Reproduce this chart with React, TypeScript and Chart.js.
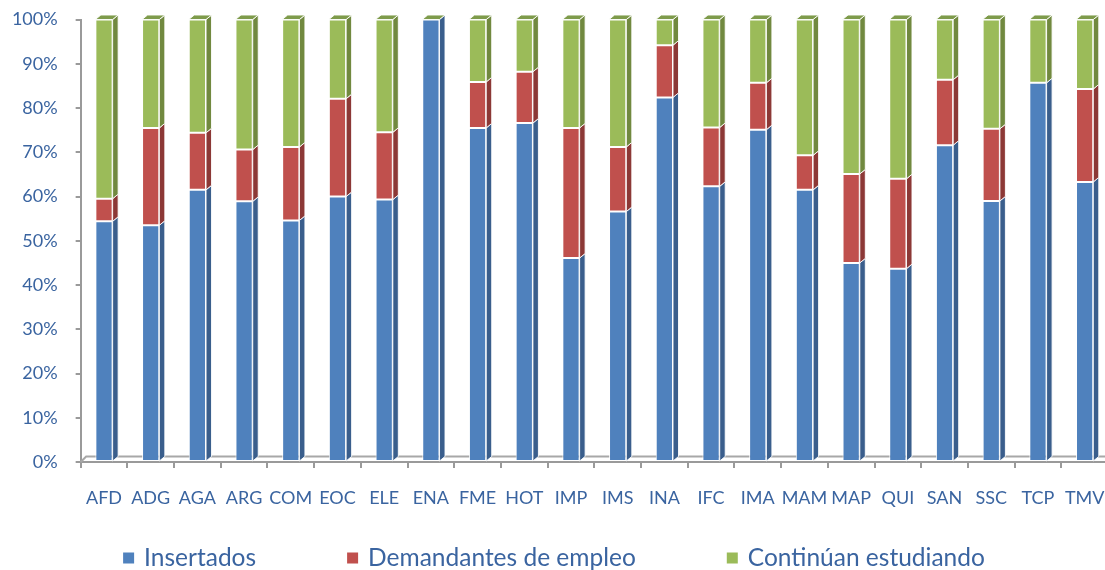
import React, { useEffect, useRef } from 'react';
import { Chart, registerables } from 'chart.js';

Chart.register(...registerables);

const categories = ['AFD', 'ADG', 'AGA', 'ARG', 'COM', 'EOC', 'ELE', 'ENA', 'FME', 'HOT', 'IMP', 'IMS', 'INA', 'IFC', 'IMA', 'MAM', 'MAP', 'QUI', 'SAN', 'SSC', 'TCP', 'TMV'];
const insertados = [54.4, 53.5, 61.5, 58.9, 54.6, 60.0, 59.3, 100, 75.5, 76.6, 46.1, 56.6, 82.4, 62.3, 75.1, 61.5, 45.0, 43.7, 71.6, 59.0, 85.7, 63.3];
const demandantes = [5.1, 22.0, 12.9, 11.7, 16.6, 22.1, 15.2, 0, 10.4, 11.6, 29.4, 14.6, 11.8, 13.3, 10.6, 7.8, 20.1, 20.3, 14.8, 16.3, 0, 21.0];
const continuan = [40.5, 24.5, 25.6, 29.4, 28.8, 17.9, 25.5, 0, 14.1, 11.8, 24.5, 28.8, 5.8, 24.4, 14.3, 30.7, 34.9, 36.0, 13.6, 24.7, 14.3, 15.7];
const yTickValues = [0, 10, 20, 30, 40, 50, 60, 70, 80, 90, 100];
const seriesNames = ['Insertados', 'Demandantes de empleo', 'Continúan estudiando'];

const frontColors = ['#4F81BD', '#C0504D', '#9BBB59'];
const sideColors = ['#3A5E8C', '#8C3836', '#71893F'];
const topFaceColor = '#7E9B4B';
const textColor = '#3A64A0';
const axisColor = '#9A9A9A';

const DX = 5.5;
const DY = -4.5;
const LEGEND_FONT = 24.5;

const bar3dPlugin = {
  id: 'bar3d',
  beforeDatasetsDraw(chart: any) {
    const { ctx, chartArea } = chart;
    ctx.save();
    ctx.strokeStyle = '#A8A8A8';
    ctx.lineWidth = 2;
    ctx.beginPath();
    ctx.moveTo(chartArea.left, chartArea.bottom);
    ctx.lineTo(chartArea.left + DX, chartArea.bottom + DY - 1);
    ctx.lineTo(chartArea.right + 10, chartArea.bottom + DY - 1);
    ctx.stroke();
    ctx.restore();
  },
  afterDatasetsDraw(chart: any) {
    const ctx = chart.ctx;
    ctx.save();
    ctx.lineWidth = 1;
    ctx.strokeStyle = 'rgba(255,255,255,0.9)';
    const nds = chart.data.datasets.length;
    for (let di = 0; di < nds; di++) {
      const meta = chart.getDatasetMeta(di);
      meta.data.forEach((el: any) => {
        const p = el.getProps(['x', 'y', 'base', 'width'], true);
        const right = p.x + p.width / 2;
        const top = Math.min(p.y, p.base);
        const bottom = Math.max(p.y, p.base);
        if (bottom - top < 0.5) return;
        ctx.beginPath();
        ctx.moveTo(right, top);
        ctx.lineTo(right + DX, top + DY);
        ctx.lineTo(right + DX, bottom + DY);
        ctx.lineTo(right, bottom);
        ctx.closePath();
        ctx.fillStyle = sideColors[di];
        ctx.fill();
        ctx.stroke();
      });
    }
    const lastMeta = chart.getDatasetMeta(nds - 1);
    lastMeta.data.forEach((el: any) => {
      const p = el.getProps(['x', 'y', 'width'], true);
      const l = p.x - p.width / 2;
      const r = p.x + p.width / 2;
      const y = p.y;
      ctx.beginPath();
      ctx.moveTo(l, y);
      ctx.lineTo(l + DX, y + DY);
      ctx.lineTo(r + DX, y + DY);
      ctx.lineTo(r, y);
      ctx.closePath();
      ctx.fillStyle = topFaceColor;
      ctx.fill();
      ctx.stroke();
    });
    ctx.restore();
  },
};

const legendPlugin = {
  id: 'customLegend',
  afterDraw(chart: any) {
    const { ctx, chartArea } = chart;
    ctx.save();
    ctx.font = `${LEGEND_FONT}px Lato`;
    ctx.textBaseline = 'middle';
    ctx.textAlign = 'left';
    const box = 11;
    const gapText = 10;
    const gapItem = 91;
    const widths = seriesNames.map((n) => ctx.measureText(n).width);
    const total = widths.reduce((a, w) => a + box + gapText + w, 0) + gapItem * (seriesNames.length - 1);
    let x = chart.width / 2 - total / 2;
    const cy = chartArea.bottom + 96;
    seriesNames.forEach((name, i) => {
      ctx.fillStyle = frontColors[i];
      ctx.fillRect(x, cy - box / 2, box, box);
      ctx.fillStyle = textColor;
      ctx.fillText(name, x + box + gapText, cy);
      x += box + gapText + widths[i] + gapItem;
    });
    ctx.restore();
  },
};

export default function App() {
  const canvasRef = useRef<HTMLCanvasElement | null>(null);

  useEffect(() => {
    if (!canvasRef.current) return;
    Chart.defaults.font.family = 'Lato';
    const values = [insertados, demandantes, continuan];
    const chart = new Chart(canvasRef.current, {
      type: 'bar',
      data: {
        labels: categories,
        datasets: seriesNames.map((name, i) => ({
          label: name,
          data: values[i],
          backgroundColor: frontColors[i],
          borderColor: 'rgba(255,255,255,0.85)',
          borderWidth: 1,
          borderSkipped: false,
          categoryPercentage: 1,
          barPercentage: 0.37,
        })),
      },
      options: {
        responsive: false,
        animation: false,
        layout: { padding: { top: 19.5, left: 0, right: 0, bottom: 0 } },
        plugins: {
          legend: { display: false },
          tooltip: { enabled: false },
        },
        scales: {
          x: {
            stacked: true,
            offset: true,
            grid: {
              display: true,
              drawOnChartArea: false,
              drawTicks: true,
              tickLength: 6,
              color: axisColor,
              lineWidth: 2,
              offset: true,
            },
            border: { display: true, color: axisColor, width: 2 },
            ticks: {
              color: textColor,
              font: { size: 18, family: 'Lato' },
              padding: 19,
              autoSkip: false,
              maxRotation: 0,
              minRotation: 0,
            },
            afterFit(scale: any) {
              scale.height = 108;
              scale.paddingLeft = 0;
              scale.paddingRight = 0;
            },
          },
          y: {
            stacked: true,
            min: 0,
            max: 100,
            afterBuildTicks(scale: any) {
              scale.ticks = yTickValues.map((v) => ({ value: v }));
            },
            grid: {
              display: true,
              drawOnChartArea: false,
              drawTicks: true,
              tickLength: 5,
              color: axisColor,
              lineWidth: 2,
            },
            border: { display: true, color: axisColor, width: 2 },
            ticks: {
              color: textColor,
              font: { size: 18, family: 'Lato' },
              padding: 18,
              callback: (v: any) => `${v}%`,
            },
            afterFit(scale: any) {
              scale.width = 80.65;
              scale.paddingTop = 0;
              scale.paddingBottom = 0;
            },
          },
        },
      },
      plugins: [bar3dPlugin, legendPlugin],
    });
    return () => chart.destroy();
  }, []);

  return (
    <div style={{ position: 'fixed', left: 0, top: 0, width: 1105, height: 570, overflow: 'hidden', background: '#fff' }}>
      <canvas ref={canvasRef} width={1108} height={570} style={{ width: 1108, height: 570, display: 'block' }} />
    </div>
  );
}
